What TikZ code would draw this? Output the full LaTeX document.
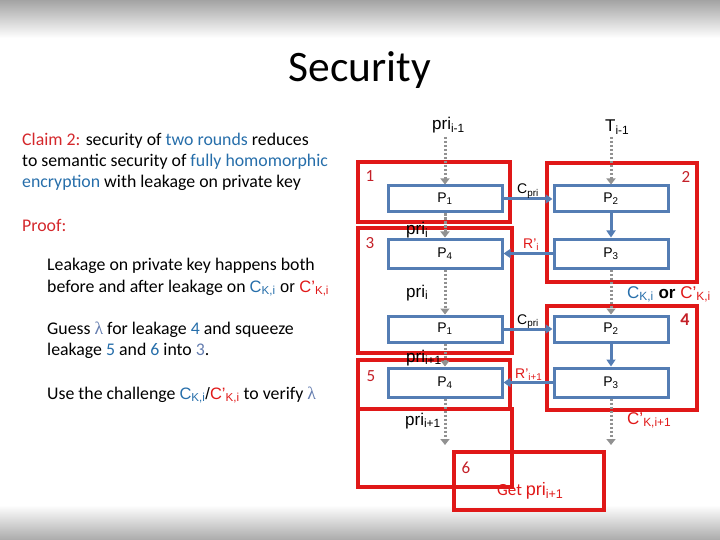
\documentclass[tikz,border=0pt]{standalone}
\usepackage{fontspec}
\setmainfont{Carlito}
\newfontfamily\arialf{Liberation Sans}
\newfontfamily\serf{Liberation Serif}
\usetikzlibrary{arrows.meta}
\definecolor{boxred}{RGB}{224,24,24}
\definecolor{numred}{RGB}{196,32,40}
\definecolor{claimred}{RGB}{212,40,44}
\definecolor{boxblue}{RGB}{84,125,180}
\definecolor{txtblue}{RGB}{38,110,170}
\definecolor{lamblue}{RGB}{100,125,175}
\definecolor{dgray}{RGB}{145,145,145}
\newcommand\sbs[1]{\textsubscript{#1}}
\tikzset{
  pbox/.style={draw=boxblue, line width=3pt, minimum width=114pt, inner sep=0pt,
    font=\arialf\fontsize{14}{16}\selectfont},
  redbox/.style={draw=boxred, line width=3.6pt},
  darrow/.style={draw=dgray, line width=3pt, dash pattern=on 2.5pt off 1.5pt,
    -{Triangle[width=9pt,length=6pt]}},
  barrow/.style={draw=boxblue, line width=3pt, -{Triangle[width=9pt,length=7pt]}},
  lab/.style={anchor=base west, inner sep=0pt, font=\arialf\fontsize{17}{19}\selectfont},
  slab/.style={anchor=base west, inner sep=0pt, font=\arialf\fontsize{14}{16}\selectfont},
  num/.style={anchor=base, inner sep=0pt, text=numred, font=\fontsize{17}{18}\selectfont},
  txt/.style={anchor=base west, inner sep=0pt, text=black, font=\fontsize{17.8}{20}\selectfont},
}
\begin{document}
\begin{tikzpicture}[x=1pt,y=-1pt]
\useasboundingbox (0,0) rectangle (720,540);
\shade[top color=black!36, bottom color=white] (0,0) rectangle (720,38);
\shade[top color=white, bottom color=black!33] (0,505) rectangle (720,540);

% title
\node[anchor=base, inner sep=0pt, font=\fontsize{43.5}{46}\selectfont] (title) at (360,82) {Security};

% left text
\node[txt] (t1) at (22,146) {\textcolor{claimred}{Claim 2:} security of \textcolor{txtblue}{two rounds} reduces};
\node[txt] (t2) at (22,167) {to semantic security of \textcolor{txtblue}{fully homomorphic}};
\node[txt] (t3) at (22,188) {\textcolor{txtblue}{encryption} with leakage on private key};
\node[txt] (t4) at (22,231) {\textcolor{claimred}{Proof:}};
\node[txt] (t5) at (47,270) {Leakage on private key happens both};
\node[txt] (t6) at (47,292) {before and after leakage on {\arialf\fontsize{16.5}{18}\selectfont\textcolor{txtblue}{C\sbs{K,i}} or \textcolor{boxred}{C’\sbs{K,i}}}};
\node[txt] (t7) at (47,334) {Guess {\serf\textcolor{lamblue}{λ}} for leakage \textcolor{txtblue}{4} and squeeze};
\node[txt] (t8) at (47,355) {leakage \textcolor{txtblue}{5} and \textcolor{txtblue}{6} into \textcolor{lamblue}{3}.};
\node[txt] (t9) at (47,399) {Use the challenge {\arialf\fontsize{16.5}{18}\selectfont\textcolor{txtblue}{C\sbs{K,i}}/\textcolor{boxred}{C’\sbs{K,i}}} to verify {\serf\textcolor{lamblue}{λ}}};

% red frames
\draw[redbox] (358,162) rectangle (510,222);
\draw[redbox] (547,163) rectangle (697,282);
\draw[redbox] (358,228) rectangle (512,353);
\draw[redbox] (547,306) rectangle (697,410);
\draw[redbox] (358,360) rectangle (510,409);
\draw[redbox] (358,409) rectangle (512,487);
\draw[redbox] (454,452) rectangle (604,510);

% blue boxes
\node[pbox, minimum height=26pt] (pa1) at (445,199) {P\sbs{1}};
\node[pbox, minimum height=26pt] (pa2) at (611,199) {P\sbs{2}};
\node[pbox, minimum height=29pt] (pa4) at (445,253.5) {P\sbs{4}};
\node[pbox, minimum height=29pt] (pa3) at (611,253.5) {P\sbs{3}};
\node[pbox, minimum height=26pt] (pb1) at (445,329) {P\sbs{1}};
\node[pbox, minimum height=26pt] (pb2) at (611,329) {P\sbs{2}};
\node[pbox, minimum height=29pt] (pb4) at (445,382.5) {P\sbs{4}};
\node[pbox, minimum height=29pt] (pb3) at (611,382.5) {P\sbs{3}};

% arrow end points
\coordinate (s1) at (445,137);
\coordinate (s2) at (611,137);
\coordinate (e1) at (445,445);
\coordinate (e2) at (611,445);

% dashed arrows
\draw[darrow] (s1) -- (pa1.north);
\draw[darrow] (s2) -- (pa2.north);
\draw[darrow] (pa1.south) -- (pa4.north);
\draw[darrow] (pa4.south) -- (pb1.north);
\draw[darrow] (pa3.south) -- (pb2.north);
\draw[darrow] (pb1.south) -- (pb4.north);
\draw[darrow] (pb4.south) -- (e1);
\draw[darrow] (pb3.south) -- (e2);

% solid arrows
\draw[barrow] (pa1.east) -- (pa2.west);
\draw[barrow] (pa2.south) -- (pa3.north);
\draw[barrow] (pa3.west) -- (pa4.east);
\draw[barrow] (pb1.east) -- (pb2.west);
\draw[barrow] (pb2.south) -- (pb3.north);
\draw[barrow] (pb3.west) -- (pb4.east);

% labels
\node[lab] (lp0) at (432,130) {pri\sbs{i-1}};
\node[lab] (lt0) at (605,132) {T\sbs{i-1}};
\node[slab] (lc1) at (517,194) {C\sbs{pri}};
\node[slab, text=boxred] (lr1) at (523,248) {R’\sbs{i}};
\node[lab] (lp1) at (406,235) {pri\sbs{i}};
\node[lab] (lp2) at (406,297) {pri\sbs{i}};
\node[slab] (lc2) at (517,324) {C\sbs{pri}};
\node[lab] (lp3) at (406,362) {pri\sbs{i+1}};
\node[slab, text=boxred] (lr2) at (515,378) {R’\sbs{i+1}};
\node[lab] (lp4) at (405,425) {pri\sbs{i+1}};
\node[lab] (lck) at (627,298) {\textcolor{txtblue}{C\sbs{K,i}} \textbf{or} \textcolor{boxred}{C’\sbs{K,i}}};
\node[lab, text=boxred] (lck2) at (627,424) {C’\sbs{K,i+1}};
\node[anchor=base west, inner sep=0pt, text=boxred] (get) at (497,495)
  {\fontsize{17}{18}\selectfont Get {\arialf\fontsize{18}{19}\selectfont pri\sbs{i+1}}};

% frame numbers
\node[num] (n1) at (370,182) {1};
\node[num] (n2) at (686,183) {2};
\node[num] (n3) at (370,248) {3};
\node[num, font=\bfseries\fontsize{18}{18}\selectfont] (n4) at (685,325) {4};
\node[num] (n5) at (371,381) {5};
\node[num] (n6) at (466,473) {6};
\end{tikzpicture}
\end{document}
